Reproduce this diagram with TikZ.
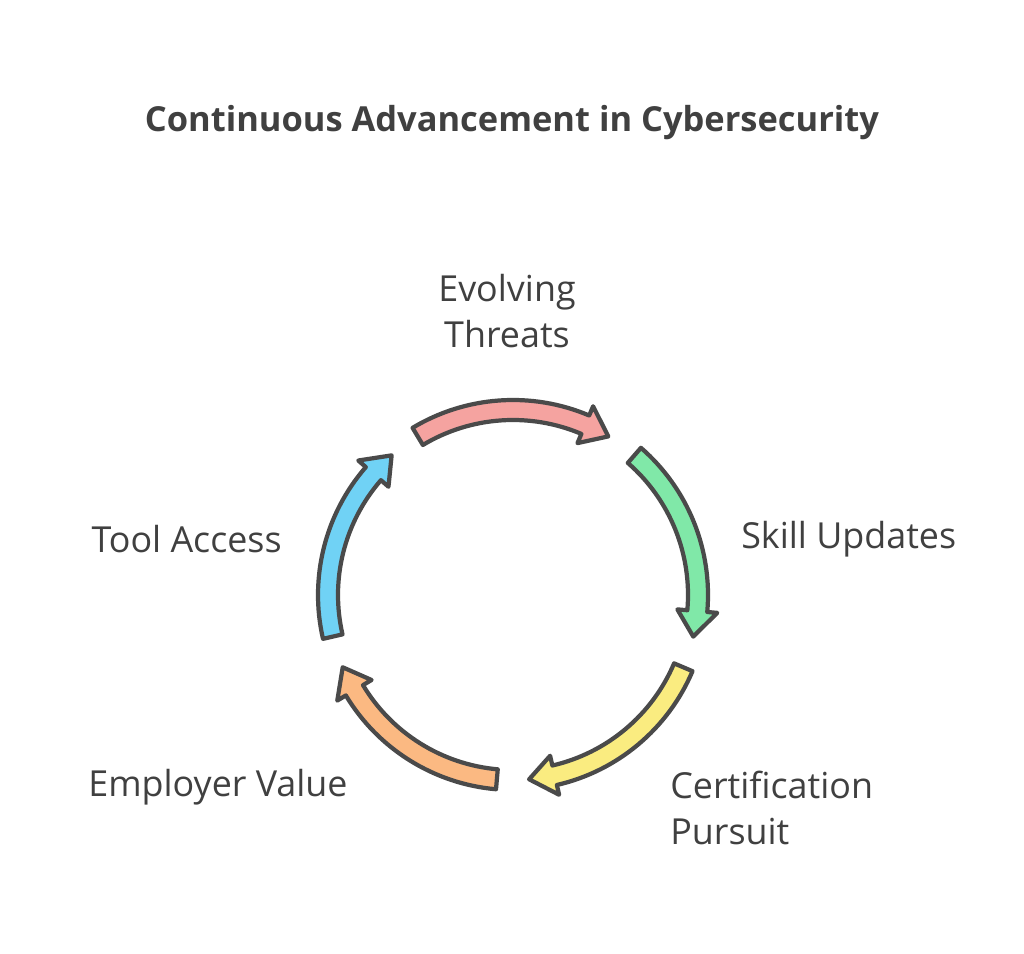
\documentclass[tikz,border=0pt]{standalone}
\usepackage{fontspec}
\setmainfont{Open Sans}
\usepackage{tikz}
\definecolor{txt}{HTML}{404040}
\definecolor{edge}{HTML}{4A4A4A}
\definecolor{cpink}{HTML}{F5A3A0}
\definecolor{cgreen}{HTML}{80E8A8}
\definecolor{cyellow}{HTML}{FAEC80}
\definecolor{corange}{HTML}{FBB982}
\definecolor{cblue}{HTML}{70D2F5}
% arc arrow centred at angle #1, colour #2
\newcommand{\cyclearrow}[2]{\filldraw[fill=#2, draw=edge, line width=3pt, line join=round]
    ([shift={(#1+31:195)}]513,358) arc (#1+31:#1-23:195)
    -- ([shift={(#1-23:205)}]513,358) -- ([shift={(#1-31:185)}]513,358)
    -- ([shift={(#1-23:165)}]513,358) -- ([shift={(#1-23:175)}]513,358)
    arc (#1-23:#1+31:175) -- cycle;}

\begin{document}
\begin{tikzpicture}[x=0.025cm, y=0.025cm,
    lbl/.style={text=txt, font=\fontsize{25.5}{33}\selectfont, align=center, inner sep=0pt}]
    \useasboundingbox (0,0) rectangle (1024,953);
    \node[text=txt, font=\fontsize{24.5}{30}\selectfont\bfseries] (title) at (512,830) {Continuous Advancement in Cybersecurity};
    \cyclearrow{90}{cpink}
    \cyclearrow{18}{cgreen}
    \cyclearrow{-54}{cyellow}
    \cyclearrow{-126}{corange}
    \cyclearrow{162}{cblue}
    \node[lbl] (threats) at (507,642) {Evolving\\Threats};
    \node[lbl, anchor=west] (skills) at (741,414) {Skill Updates};
    \node[lbl, anchor=west, align=left] (cert) at (670,145) {Certification\\Pursuit};
    \node[lbl] (employer) at (218,166) {Employer Value};
    \node[lbl, anchor=east] (tools) at (282,414) {Tool Access};
\end{tikzpicture}
\end{document}
